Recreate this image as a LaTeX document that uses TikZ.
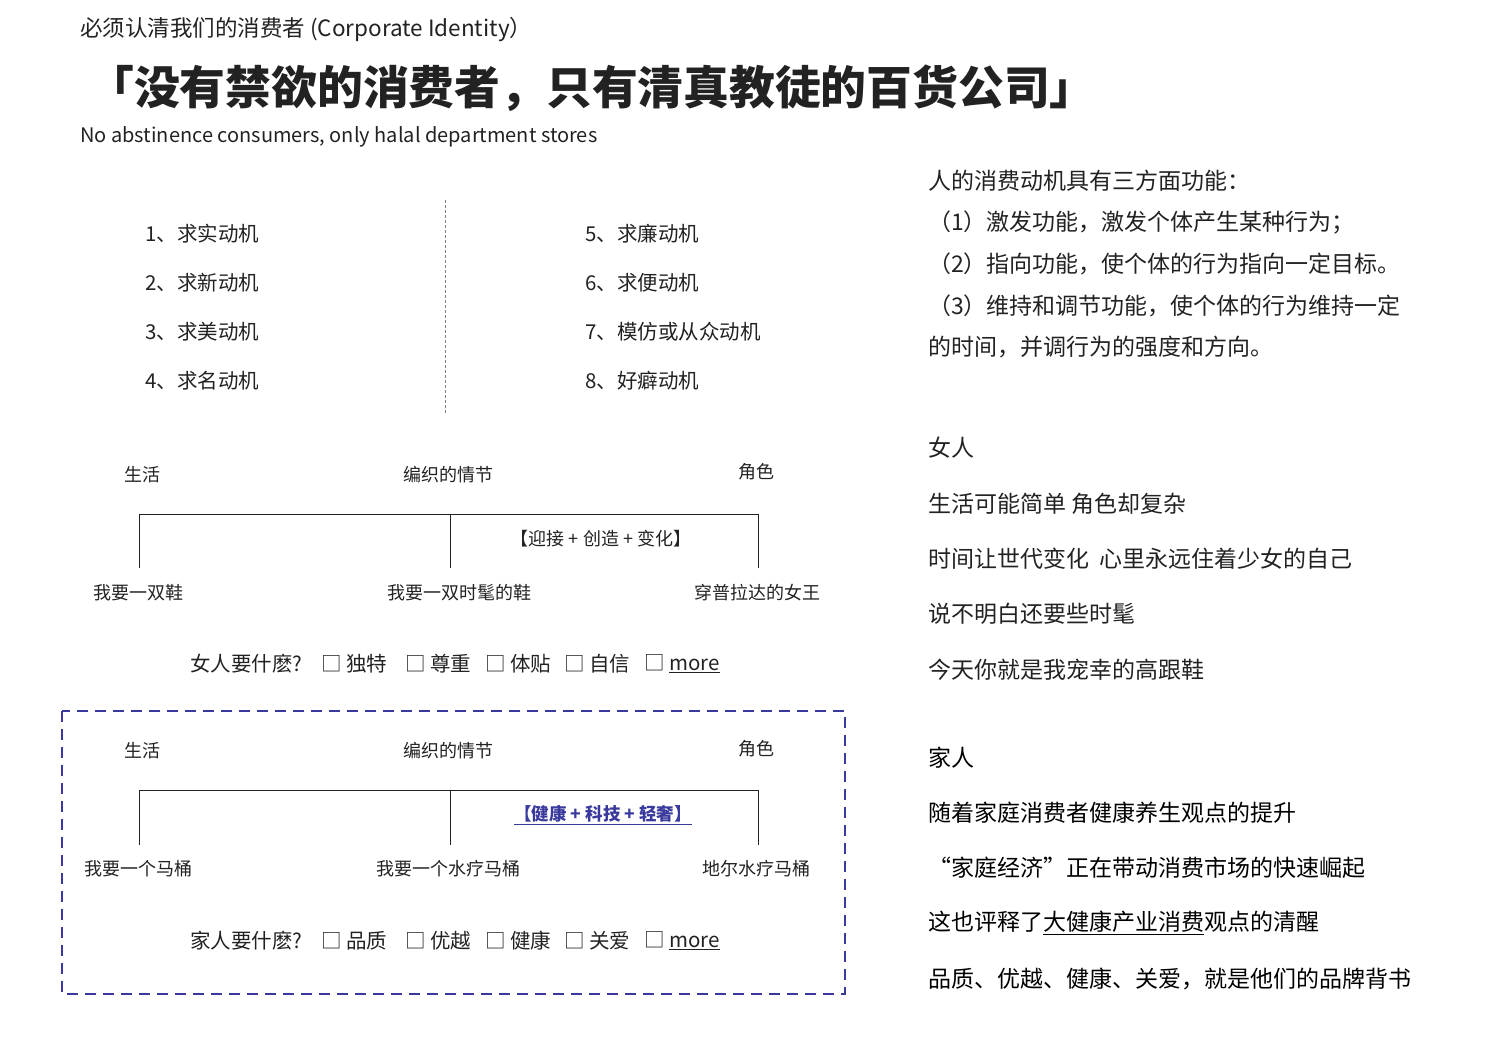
\documentclass[tikz,border=0pt]{standalone}
\usepackage{fontspec}
\setmainfont{Noto Sans CJK SC}
\usetikzlibrary{positioning}
\definecolor{ink}{HTML}{222222}
\definecolor{navy}{HTML}{3A3A9E}
\begin{document}
\begin{tikzpicture}[x=1pt,y=-1pt,
  every node/.style={inner sep=0pt,text=ink},
  t/.style={anchor=west,font=\fontsize{20.5}{20.5}\selectfont},
  r/.style={anchor=west,font=\fontsize{23}{23}\selectfont},
  s/.style={font=\fontsize{18}{18}\selectfont},
  ln/.style={draw=ink,line width=0.8pt}]
\useasboundingbox (0,0) rectangle (1500,1038);
\node[anchor=west,font=\fontsize{22.5}{22.5}\selectfont] (h1) at (80,30) {必须认清我们的消费者 (Corporate Identity）};
\node[anchor=west,font=\fontsize{45.8}{45.8}\selectfont\bfseries] (h2) at (88,88) {「没有禁欲的消费者，只有清真教徒的百货公司」};
\node[anchor=west,font=\fontsize{20}{20}\selectfont] (h3) at (80,137) {No abstinence consumers, only halal department stores};
% motives
\node[t] (m1) at (145,234) {1、求实动机};
\node[t] (m2) at (145,283) {2、求新动机};
\node[t] (m3) at (145,332) {3、求美动机};
\node[t] (m4) at (145,381) {4、求名动机};
\node[t] (m5) at (585,234) {5、求廉动机};
\node[t] (m6) at (585,283) {6、求便动机};
\node[t] (m7) at (585,332) {7、模仿或从众动机};
\node[t] (m8) at (585,381) {8、好癖动机};
\coordinate (d1) at (445,200); \coordinate (d2) at (445,413);
\draw[gray,dash pattern=on 3pt off 2pt] (d1) -- (d2);
% diagram 1
\node[s] (a1) at (142,475) {生活};
\node[s] (a2) at (448,475) {编织的情节};
\node[s] (a3) at (756,472) {角色};
\coordinate (p1) at (139,514); \coordinate (p2) at (450,514); \coordinate (p3) at (758,514);
\coordinate (q1) at (139,568); \coordinate (q2) at (450,568); \coordinate (q3) at (758,568);
\draw[ln] (p1) -- (p3); \draw[ln] (p1)--(q1); \draw[ln] (p2)--(q2); \draw[ln] (p3)--(q3);
\node[s] (b0) at (601,539) {【迎接 + 创造 + 变化】};
\node[s] (b1) at (138,593) {我要一双鞋};
\node[s] (b2) at (459,593) {我要一双时髦的鞋};
\node[s] (b3) at (757,593) {穿普拉达的女王};
\node[t] (c0) at (190,664) {女人要什麽?};
\node[t] (c1) at (321,664) {□ 独特};
\node[t] (c2) at (405,664) {□ 尊重};
\node[t] (c3) at (485,664) {□ 体贴};
\node[t] (c4) at (564,664) {□ 自信};
\node[t] (c5) at (644,664) {□ \underline{more}};
% dashed box
\draw[navy,line width=2.8pt,dash pattern=on 11pt off 7pt] (62,711) rectangle (845,994);
\node[s] (e1) at (142,751) {生活};
\node[s] (e2) at (448,751) {编织的情节};
\node[s] (e3) at (756,749) {角色};
\coordinate (u1) at (139,790); \coordinate (u2) at (450,790); \coordinate (u3) at (758,790);
\coordinate (v1) at (139,845); \coordinate (v2) at (450,845); \coordinate (v3) at (758,845);
\draw[ln] (u1) -- (u3); \draw[ln] (u1)--(v1); \draw[ln] (u2)--(v2); \draw[ln] (u3)--(v3);
\node[s,text=navy,font=\fontsize{17.5}{17.5}\selectfont\bfseries] (f0) at (603,815) {\underline{【健康 + 科技 + 轻奢】}};
\node[s] (f1) at (138,869) {我要一个马桶};
\node[s] (f2) at (448,869) {我要一个水疗马桶};
\node[s] (f3) at (756,869) {地尔水疗马桶};
\node[t] (g0) at (190,941) {家人要什麽?};
\node[t] (g1) at (321,941) {□ 品质};
\node[t] (g2) at (405,941) {□ 优越};
\node[t] (g3) at (485,941) {□ 健康};
\node[t] (g4) at (564,941) {□ 关爱};
\node[t] (g5) at (644,941) {□ \underline{more}};
% right column
\node[r] (r1) at (928,181) {人的消费动机具有三方面功能：};
\node[r] (r2) at (928,223) {（1）激发功能，激发个体产生某种行为；};
\node[r] (r3) at (928,264) {（2）指向功能，使个体的行为指向一定目标。};
\node[r] (r4) at (928,306) {（3）维持和调节功能，使个体的行为维持一定};
\node[r] (r5) at (928,347) {的时间，并调行为的强度和方向。};
\node[r] (w0) at (928,448) {女人};
\node[r] (w1) at (928,504) {生活可能简单 角色却复杂};
\node[r] (w2) at (928,559) {时间让世代变化\ \ 心里永远住着少女的自己};
\node[r] (w3) at (928,614) {说不明白还要些时髦};
\node[r] (w4) at (928,670) {今天你就是我宠幸的高跟鞋};
\node[r,text=black] (k0) at (928,758) {家人};
\node[r,text=black] (k1) at (928,813) {随着家庭消费者健康养生观点的提升};
\node[r,text=black] (k2) at (928,868) {“家庭经济”正在带动消费市场的快速崛起};
\node[r,text=black] (k3) at (928,923) {这也评释了\underline{大健康产业消费}观点的清醒};
\node[r,text=black] (k4) at (928,979) {品质、优越、健康、关爱，就是他们的品牌背书};
\end{tikzpicture}
\end{document}
